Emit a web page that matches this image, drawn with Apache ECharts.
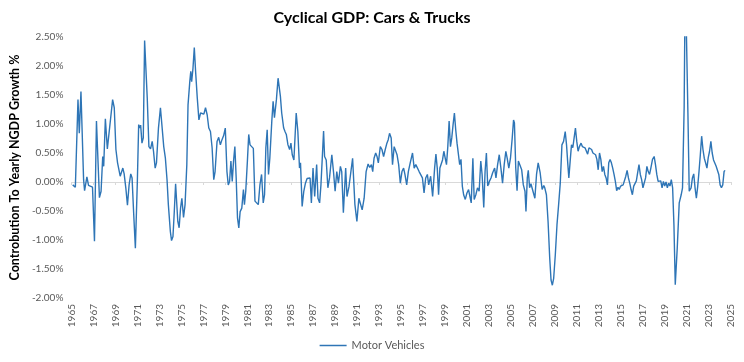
<!DOCTYPE html>
<html>
<head>
<meta charset="utf-8">
<script src="https://cdn.jsdelivr.net/npm/echarts@6/dist/echarts.min.js"></script>
<style>html,body{margin:0;padding:0;background:#fff}#c{width:744px;height:362px}</style>
</head>
<body>
<div id="c"></div>
<script>
const chartTitle = 'Cyclical GDP: Cars & Trucks';
const yAxisName = 'Controbution To Yearly NGDP Growth %';
const seriesName = 'Motor Vehicles';
const yearTicks = [1965, 2025, 2];
const valueTicks = [-2, 2.5, 0.5];

const years = [
1965.12,1965.36,1965.6,1965.72,1965.87,1966.11,1966.2,1966.41,1966.56,1966.74,1966.92,1967.1,1967.28,1967.55,1967.7,1967.85,1967.94,
1968.09,1968.27,1968.48,1968.75,1968.9,1969.05,1969.2,1969.44,1969.68,1969.8,1969.95,1970.1,1970.25,1970.4,1970.52,1970.67,1970.82,
1971.0,1971.12,1971.21,1971.3,1971.42,1971.54,1971.66,1971.75,1971.9,1972.05,1972.2,1972.35,1972.47,1972.62,1972.74,1972.92,
1973.1,1973.22,1973.4,1973.55,1973.7,1973.82,1974.0,1974.11,1974.24,1974.36,1974.48,1974.57,1974.68,1974.8,1974.93,1975.05,1975.2,1975.34,
1975.5,1975.61,1975.77,1975.86,1975.94,1976.06,1976.18,1976.3,1976.45,1976.6,1976.75,1976.9,1977.05,1977.2,1977.35,1977.5,1977.65,1977.8,1977.95,
1978.07,1978.25,1978.4,1978.55,1978.7,1978.85,1979.0,1979.15,1979.27,1979.39,1979.51,1979.63,1979.75,1979.87,1979.99,
1980.11,1980.23,1980.35,1980.5,1980.65,1980.74,1980.86,1981.01,1981.13,1981.25,1981.4,1981.55,1981.7,1981.85,1982.0,1982.15,1982.3,1982.45,1982.57,
1982.69,1982.81,1982.93,1983.05,1983.23,1983.35,1983.47,1983.65,1983.8,1983.89,1984.01,1984.13,1984.31,1984.43,1984.55,1984.7,1984.85,1984.97,
1985.09,1985.24,1985.45,1985.6,1985.75,1985.84,1985.99,1986.14,1986.29,1986.44,1986.59,1986.71,1986.83,1986.98,1987.13,1987.31,1987.43,1987.58,1987.7,
1987.82,1987.94,1988.03,1988.18,1988.33,1988.48,1988.69,1988.84,1988.99,1989.14,1989.29,1989.47,1989.59,1989.74,1989.95,1990.07,1990.25,1990.4,
1990.58,1990.79,1990.97,1991.15,1991.3,1991.45,1991.63,1991.81,1991.99,1992.14,1992.29,1992.41,1992.53,1992.68,1992.8,1992.92,1993.1,1993.25,
1993.4,1993.55,1993.7,1993.82,1993.94,1994.09,1994.21,1994.36,1994.51,1994.62,1994.77,1994.92,1995.07,1995.22,1995.34,1995.5,1995.65,1995.82,
1996.03,1996.18,1996.33,1996.48,1996.63,1996.78,1996.93,1997.08,1997.23,1997.38,1997.5,1997.68,1997.86,1998.04,1998.16,1998.28,1998.4,1998.52,
1998.64,1998.76,1998.88,1999.0,1999.12,1999.24,1999.36,1999.48,1999.6,1999.72,1999.84,1999.96,2000.08,2000.2,2000.32,2000.44,2000.56,2000.68,
2000.83,2000.98,2001.13,2001.22,2001.37,2001.52,2001.64,2001.79,2001.94,2002.09,2002.24,2002.36,2002.51,2002.63,2002.75,2002.87,2003.02,2003.17,
2003.32,2003.5,2003.62,2003.77,2003.92,2004.07,2004.22,2004.37,2004.52,2004.64,2004.79,2004.94,2005.1,2005.22,2005.3,
2005.42,2005.54,2005.66,2005.78,2005.96,2006.11,2006.26,2006.35,2006.47,2006.56,2006.68,2006.8,2006.98,2007.16,2007.31,2007.46,2007.64,2007.82,
2007.97,2008.06,2008.21,2008.36,2008.51,2008.63,2008.75,2008.87,2009.02,2009.17,2009.32,2009.47,2009.62,2009.77,2009.92,2010.04,2010.16,2010.25,
2010.37,2010.49,2010.61,2010.73,2010.85,2010.97,2011.09,2011.21,2011.36,2011.48,2011.6,2011.72,2011.84,2011.96,2012.08,2012.2,2012.32,2012.44,
2012.56,2012.68,2012.8,2012.92,2013.04,2013.16,2013.28,2013.4,2013.52,2013.64,2013.76,2013.88,2014.0,2014.12,2014.24,2014.36,2014.48,2014.6,
2014.72,2014.83,2014.96,2015.08,2015.19,2015.31,2015.43,2015.55,2015.67,2015.79,2015.91,2016.03,2016.15,2016.27,2016.39,2016.51,2016.63,2016.75,
2016.87,2016.99,2017.11,2017.23,2017.35,2017.47,2017.59,2017.71,2017.86,2018.01,2018.13,2018.25,2018.37,2018.49,2018.61,2018.73,2018.85,2018.97,
2019.09,2019.21,2019.33,2019.45,2019.57,2019.69,2019.81,2019.93,2020.11,2020.29,2020.47,2020.59,2020.74,2020.84,2020.96,2021.08,2021.2,
2021.37,2021.49,2021.61,2021.73,2021.85,2021.97,2022.09,2022.21,2022.33,2022.45,2022.57,2022.69,2022.81,2022.93,2023.05,2023.17,2023.29,2023.41,
2023.53,2023.65,2023.77,2023.89,2024.01,2024.13,2024.25,2024.37,2024.46
];

const values = [
-0.05,-0.09,1.42,0.84,1.56,0.04,-0.15,0.09,-0.06,-0.05,-0.09,-1.02,1.05,-0.27,-0.16,0.44,0.27,
1.09,0.57,0.94,1.42,1.28,0.56,0.33,0.1,0.24,0.14,-0.1,-0.4,-0.05,0.14,0.07,-0.56,-1.14,
0.01,0.99,0.93,0.98,0.67,0.76,2.44,2.45,1.45,0.61,0.57,0.7,0.53,0.24,0.33,0.93,
1.28,1.26,0.61,0.41,0.04,-0.39,-0.85,-1.01,-0.94,-0.51,-0.03,-0.03,-0.68,-0.79,-0.45,-0.28,-0.61,-0.39,
0.3,1.33,1.73,1.91,1.73,1.96,2.32,1.9,1.45,1.07,1.19,1.2,1.17,1.28,1.16,0.93,0.87,0.59,0.04,
0.18,0.7,0.77,0.64,0.73,0.8,0.93,0.18,-0.05,0.01,0.36,0.01,0.36,0.61,0.07,
-0.62,-0.79,-0.51,-0.45,-0.13,-0.39,-0.16,0.36,0.82,0.64,0.61,0.58,-0.33,-0.36,-0.39,-0.05,0.13,-0.36,-0.22,
0.59,0.9,0.13,0.41,1.05,1.39,1.11,1.42,1.79,1.76,1.48,1.19,0.93,0.87,0.82,0.64,0.56,0.67,
0.47,0.38,1.19,0.87,0.24,0.33,-0.42,-0.16,-0.02,0.06,0.04,0.07,-0.36,0.24,-0.25,0.3,-0.28,-0.36,-0.05,
0.41,0.88,0.44,0.38,-0.1,0.07,0.47,0.18,-0.16,0.18,-0.02,0.27,0.18,-0.53,0.24,-0.25,-0.08,-0.1,
0.41,-0.39,-0.68,-0.28,-0.25,-0.48,-0.28,0.18,0.31,0.25,0.3,0.18,0.41,0.5,0.44,0.33,0.61,0.56,
0.44,0.56,0.67,0.73,0.84,0.76,0.3,0.61,0.59,0.47,0.3,-0.02,0.18,0.24,0.13,-0.05,0.18,0.33,
0.5,0.24,0.3,0.33,0.18,0.16,0.07,-0.19,0.07,0.13,-0.05,0.1,-0.25,0.24,0.48,0.24,-0.22,0.24,
0.27,0.38,0.53,0.56,0.3,0.61,1.05,0.61,0.76,0.99,1.19,0.9,0.67,0.64,0.3,0.39,-0.07,-0.22,
-0.3,-0.19,-0.13,-0.22,-0.36,0.41,-0.3,-0.22,-0.1,-0.16,0.36,0.13,-0.44,0.18,0.5,-0.07,0.01,0.07,
0.16,0.24,0.07,0.3,0.47,0.24,-0.02,0.3,0.53,0.41,0.24,0.41,0.76,1.07,1.02,
0.24,-0.15,0.36,0.3,0.21,-0.05,-0.16,-0.51,0.07,0.2,-0.1,-0.03,-0.05,-0.28,0.13,0.33,0.16,-0.13,
-0.06,-0.1,-0.22,-0.68,-1.31,-1.69,-1.78,-1.66,-1.25,-0.74,-0.39,-0.02,0.64,0.7,0.87,0.64,0.3,0.07,
0.36,0.64,0.59,0.76,0.93,0.7,0.53,0.61,0.67,0.61,0.64,0.59,0.61,0.48,0.59,0.61,0.56,0.5,
0.53,0.47,0.39,0.21,0.5,0.39,0.18,0.27,0.13,0.07,-0.05,0.33,0.39,0.33,0.24,0.13,0.01,-0.15,
-0.09,-0.13,-0.07,-0.09,-0.05,-0.02,0.1,0.2,0.07,-0.02,-0.13,-0.22,-0.07,-0.05,0.02,0.16,0.3,0.13,
0.04,-0.1,-0.11,0.07,0.27,0.18,0.13,0.24,0.39,0.44,0.3,0.13,0.01,-0.02,0.02,-0.1,0.01,-0.07,
0.0,-0.1,-0.02,-0.07,0.04,-0.1,-0.74,-1.77,-1.14,-0.36,-0.22,-0.1,1.3,3.6,3.6,1.2,-0.16,
-0.1,0.07,0.14,-0.1,-0.28,-0.08,0.18,0.47,0.79,0.56,0.41,0.33,0.24,0.42,0.53,0.7,0.5,0.38,
0.36,0.27,0.24,0.13,-0.05,-0.1,-0.05,0.18,0.2
];

const data = years.map((y, i) => [y, values[i]]);
const FONT = 'Lato, "Open Sans", sans-serif';
const chart = echarts.init(document.getElementById('c'), null, {renderer: 'canvas'});
chart.setOption({
  animation: false,
  title: {
    text: chartTitle, left: 'center', top: 5,
    textStyle: {fontFamily: FONT, fontSize: 16, fontWeight: 'bold', color: '#000'}
  },
  legend: {
    bottom: 6, left: 'center', data: [seriesName],
    icon: 'rect', itemWidth: 27, itemHeight: 1.5, itemGap: 4,
    textStyle: {fontFamily: FONT, fontSize: 11, color: '#595959'}
  },
  grid: {left: 64, right: 13, top: 37, bottom: 64},
  xAxis: [{
    type: 'value', min: yearTicks[0], max: yearTicks[1], interval: yearTicks[2],
    axisLine: {show: false, onZero: false}, axisTick: {show: false}, splitLine: {show: false},
    axisLabel: {rotate: 90, margin: 6, fontFamily: FONT, fontSize: 10, color: '#595959', formatter: v => String(v)}
  }, {
    type: 'value', min: yearTicks[0], max: yearTicks[1], interval: yearTicks[2], position: 'bottom',
    axisLine: {show: true, onZero: true, lineStyle: {color: '#d9d9d9', width: 1}},
    axisTick: {show: true, length: 3, lineStyle: {color: '#d9d9d9'}},
    axisLabel: {show: false}, splitLine: {show: false}
  }],
  yAxis: {
    type: 'value', min: valueTicks[0], max: valueTicks[1], interval: valueTicks[2],
    name: yAxisName, nameLocation: 'middle', nameGap: 44, nameRotate: 90,
    nameTextStyle: {fontFamily: FONT, fontSize: 12.5, fontWeight: 'bold', color: '#000'},
    axisLine: {show: false}, axisTick: {show: false}, splitLine: {show: false},
    axisLabel: {fontFamily: FONT, fontSize: 10, color: '#595959', margin: 8, formatter: v => v.toFixed(2) + '%'}
  },
  series: [{
    name: seriesName, type: 'line', xAxisIndex: 0, data: data,
    showSymbol: false, symbol: 'none', clip: true,
    lineStyle: {color: '#2e75b6', width: 1.4}, itemStyle: {color: '#2e75b6'}
  }]
});
</script>
</body>
</html>
